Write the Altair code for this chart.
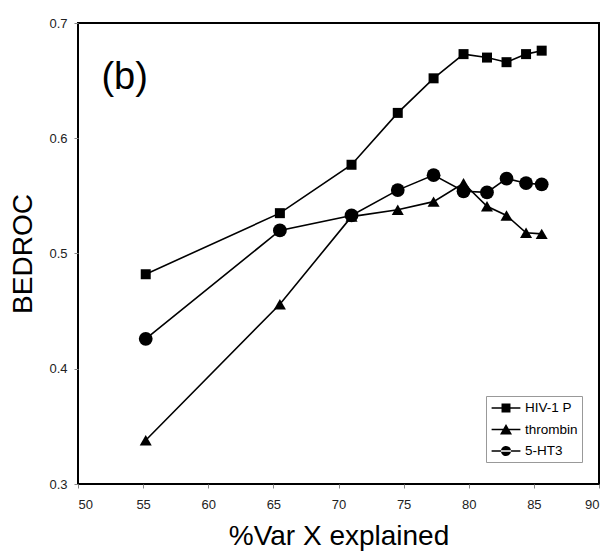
import altair as alt
import pandas as pd

# ---- data ----
x_vals = [55.2, 65.5, 71.0, 74.55, 77.3, 79.6, 81.4, 82.9, 84.4, 85.6]
hiv = [0.482, 0.535, 0.577, 0.622, 0.652, 0.673, 0.670, 0.666, 0.673, 0.676]
thrombin = [0.338, 0.456, 0.532, 0.538, 0.545, 0.561, 0.541, 0.533, 0.518, 0.517]
ht3 = [0.426, 0.520, 0.533, 0.555, 0.568, 0.554, 0.553, 0.565, 0.561, 0.560]
series_names = ["HIV-1 P", "thrombin", "5-HT3"]
x_ticks = [50, 55, 60, 65, 70, 75, 80, 85, 90]
y_ticks = [0.3, 0.4, 0.5, 0.6, 0.7]
panel_label = ["(b)"]
panel_label_x = [51.8]
panel_label_y = [0.652]

rows = []
for name, vals in zip(series_names, [hiv, thrombin, ht3]):
    for xv, yv in zip(x_vals, vals):
        rows.append({"x": xv, "y": yv, "series": name})
df = pd.DataFrame(rows)
lab_df = pd.DataFrame({"x": panel_label_x, "y": panel_label_y, "t": panel_label})

FONT = "Liberation Sans"

xenc = alt.X("x:Q", scale=alt.Scale(domain=[50, 90], nice=False, zero=False),
             axis=alt.Axis(values=x_ticks, format="d", title="%Var X explained"))
yenc = alt.Y("y:Q", scale=alt.Scale(domain=[0.3, 0.7], nice=False, zero=False),
             axis=alt.Axis(values=y_ticks, format=".1f", title="BEDROC"))

base = alt.Chart(df)

lines = base.mark_line(color="black", strokeWidth=1.6).encode(
    x=xenc, y=yenc, detail="series:N"
)

points = base.mark_point(filled=True, color="black", opacity=1).encode(
    x=xenc, y=yenc,
    shape=alt.Shape("series:N",
                    scale=alt.Scale(domain=series_names,
                                    range=["square", "triangle-up", "circle"]),
                    legend=None),
    size=alt.Size("series:N",
                  scale=alt.Scale(domain=series_names, range=[100, 190, 150]),
                  legend=None),
)

# legend-only layer (no rows drawn); symbols = line segment + marker
line_part = "M-1.8,-0.09L1.8,-0.09L1.8,0.09L-1.8,0.09Z"
leg_paths = [
    line_part + "M-0.56,-0.56L0.56,-0.56L0.56,0.56L-0.56,0.56Z",
    line_part + "M0,-0.69L0.75,0.62L-0.75,0.62Z",
    line_part + "M-0.63,0A0.63,0.63 0 1,0 0.63,0A0.63,0.63 0 1,0 -0.63,0Z",
]
legend_layer = base.transform_filter("false").mark_point(
    filled=True, color="black", opacity=1
).encode(
    x=xenc, y=yenc,
    shape=alt.Shape("series:N",
                    scale=alt.Scale(domain=series_names, range=leg_paths),
                    legend=alt.Legend(
                        title=None, orient="none", legendX=408, legendY=373,
                        fillColor="white", strokeColor="#999999", padding=4,
                        symbolSize=256, symbolOffset=8, labelOffset=11,
                        rowPadding=6.5, labelFont=FONT, labelFontSize=13.5,
                        labelColor="black", symbolFillColor="black",
                        symbolStrokeWidth=0, symbolOpacity=1,
                    )),
)

label = alt.Chart(lab_df).mark_text(
    align="left", baseline="middle", font=FONT, fontSize=38, color="black"
).encode(x="x:Q", y="y:Q", text="t:N")

chart = alt.layer(lines, points, legend_layer, label).resolve_scale(
    shape="independent", size="independent"
).properties(
    width=521, height=461,
    autosize=alt.AutoSizeParams(type="none"),
    padding={"left": 78, "top": 23, "right": 13, "bottom": 73},
    background="white",
).configure_view(
    stroke="black", strokeWidth=2
).configure_axis(
    grid=False, domain=False, tickColor="#888888", tickSize=4,
    labelFont=FONT, labelFontSize=13, labelColor="#222222", labelPadding=7,
    titleFont=FONT, titleFontSize=28, titleFontWeight="normal", titleColor="black",
).configure_axisX(
    labelPadding=10, titlePadding=11
).configure_axisY(
    titlePadding=11
)

chart.save("out.html", embed_options={"renderer": "svg", "actions": False})
